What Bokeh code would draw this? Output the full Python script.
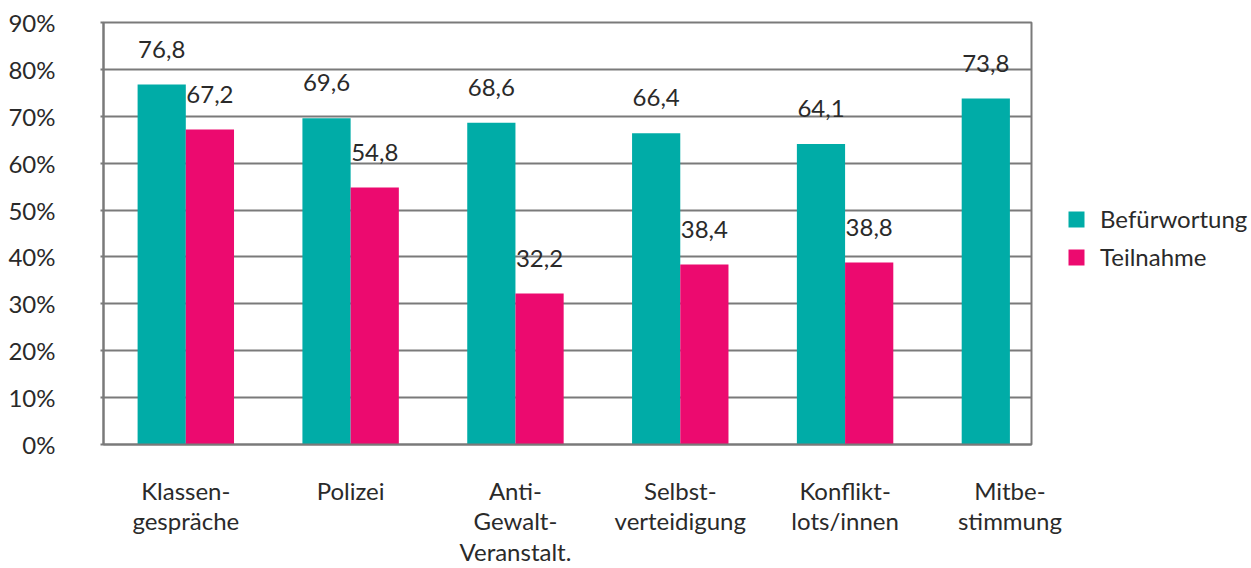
import numpy as np
from bokeh.plotting import figure
from bokeh.layouts import row
from bokeh.models import Range1d, FixedTicker, Legend, LegendItem, ColumnDataSource, LabelSet
from bokeh.core.properties import value
from bokeh.embed import file_html
from bokeh.resources import INLINE

# ---- data ----
categories = ["Klassen-\ngespräche", "Polizei", "Anti-\nGewalt-\nVeranstalt.",
              "Selbst-\nverteidigung", "Konflikt-\nlots/innen", "Mitbe-\nstimmung"]
befuerwortung = [76.8, 69.6, 68.6, 66.4, 64.1, 73.8]
teilnahme = [67.2, 54.8, 32.2, 38.4, 38.8, None]
series_names = ["Befürwortung", "Teilnahme"]
y_ticks = [0, 10, 20, 30, 40, 50, 60, 70, 80, 90]
y_tick_labels = ["0%", "10%", "20%", "30%", "40%", "50%", "60%", "70%", "80%", "90%"]

# ---- style ----
TEAL = "#00ACA7"
PINK = "#EC0A6F"
GRID = "#7a7a7a"
TXT = "#2a2a2a"
FONT = "Lato"
FS = "24px"
bar_w = 0.2925
label_pad = 5.7          # data units above bar top

def fmt(v):
    return f"{v:.1f}".replace(".", ",")

x = np.arange(len(categories), dtype=float)

p = figure(width=1066, height=568, output_backend="svg", toolbar_location=None,
           x_range=Range1d(-0.4994, 5.131), y_range=Range1d(0, 90),
           min_border_left=103, min_border_right=35, min_border_top=22, min_border_bottom=121)
p.background_fill_color = "white"
p.border_fill_color = "white"
p.outline_line_color = GRID
p.outline_line_width = 2

# bars
src_a = ColumnDataSource(dict(x=x - bar_w / 2, top=befuerwortung,
                              lab=[fmt(v) for v in befuerwortung],
                              ly=[v + label_pad for v in befuerwortung]))
ix_b = [i for i, v in enumerate(teilnahme) if v is not None]
src_b = ColumnDataSource(dict(x=[x[i] + bar_w / 2 for i in ix_b],
                              top=[teilnahme[i] for i in ix_b],
                              lab=[fmt(teilnahme[i]) for i in ix_b],
                              ly=[teilnahme[i] + label_pad for i in ix_b]))
p.vbar(x="x", top="top", bottom=0, width=bar_w, source=src_a, fill_color=TEAL, line_color=None)
p.vbar(x="x", top="top", bottom=0, width=bar_w, source=src_b, fill_color=PINK, line_color=None)

for s in (src_a, src_b):
    p.add_layout(LabelSet(x="x", y="ly", text="lab", source=s, text_align="center",
                          text_baseline="alphabetic", text_font=value(FONT),
                          text_font_size=FS, text_color=TXT))

# axes
p.xaxis.ticker = FixedTicker(ticks=list(x))
p.xaxis.major_label_overrides = {float(i): c for i, c in zip(x, categories)}
p.xaxis.major_label_text_font = FONT
p.xaxis.major_label_text_font_size = FS
p.xaxis.major_label_text_color = TXT
p.xaxis.major_label_text_line_height = 1.06
p.xaxis.major_label_standoff = 31
p.xaxis.major_tick_line_color = None
p.xaxis.major_tick_out = 0
p.xaxis.major_tick_in = 0
p.xaxis.minor_tick_line_color = None
p.xaxis.axis_line_color = GRID
p.xaxis.axis_line_width = 2

p.yaxis.ticker = FixedTicker(ticks=y_ticks)
p.yaxis.major_label_overrides = {t: l for t, l in zip(y_ticks, y_tick_labels)}
p.yaxis.major_label_text_font = FONT
p.yaxis.major_label_text_font_size = FS
p.yaxis.major_label_text_color = TXT
p.yaxis.major_label_standoff = 45
p.yaxis.major_tick_out = 3
p.yaxis.major_tick_in = 0
p.yaxis.major_tick_line_color = GRID
p.yaxis.major_tick_line_width = 2
p.yaxis.minor_tick_line_color = None
p.yaxis.axis_line_color = GRID
p.yaxis.axis_line_width = 2

p.xgrid.grid_line_color = None
p.ygrid.grid_line_color = GRID
p.ygrid.grid_line_width = 2

# legend panel (separate figure to the right); its bars sit outside its view range
pl = figure(width=185, height=568, output_backend="svg", toolbar_location=None,
            x_range=Range1d(-30, -29), y_range=Range1d(0, 90),
            min_border_left=0, min_border_right=0, min_border_top=0, min_border_bottom=0)
pl.axis.visible = False
pl.grid.grid_line_color = None
pl.outline_line_color = None
pl.background_fill_color = "white"
pl.border_fill_color = "white"
la = pl.vbar(x="x", top="top", bottom=0, width=bar_w, source=src_a, fill_color=TEAL, line_color=None)
lb = pl.vbar(x="x", top="top", bottom=0, width=bar_w, source=src_b, fill_color=PINK, line_color=None)
legend = Legend(items=[LegendItem(label=series_names[0], renderers=[la]),
                       LegendItem(label=series_names[1], renderers=[lb])],
                location=(0, 173), orientation="vertical",
                glyph_width=20, glyph_height=20, label_height=20, spacing=9,
                label_standoff=14, padding=0, margin=0,
                label_text_font=FONT, label_text_font_size=FS, label_text_color=TXT,
                border_line_color=None, background_fill_alpha=0)
pl.add_layout(legend)

layout = row(p, pl, spacing=0)
open("out.html", "w").write(file_html(layout, INLINE))
